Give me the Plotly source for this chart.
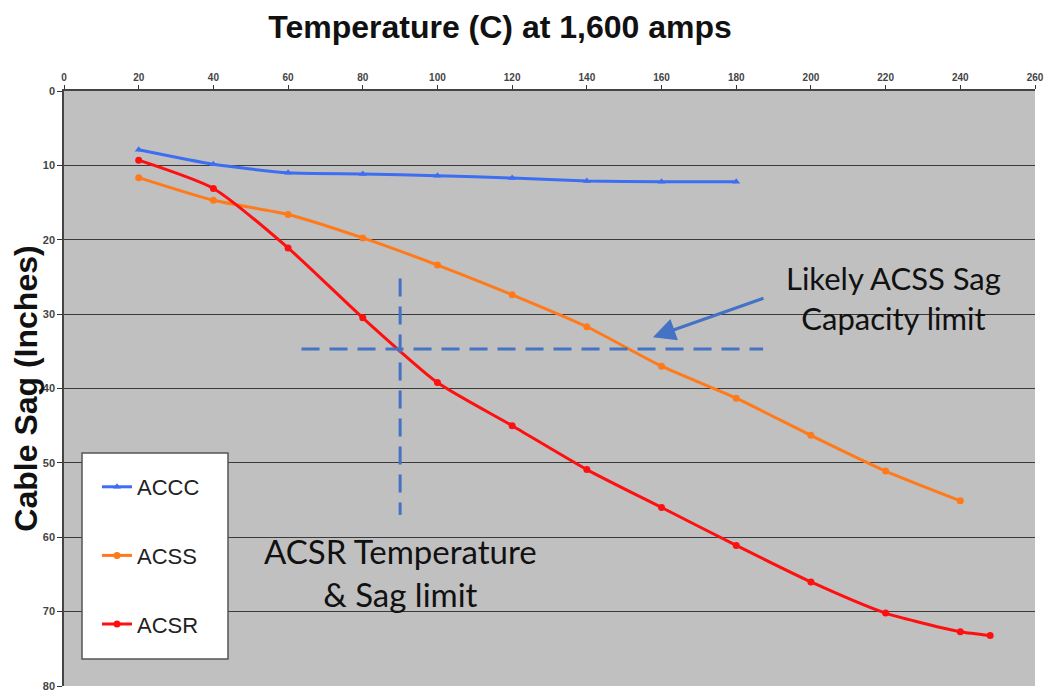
import plotly.graph_objects as go

# ---- data ----
temps_accc = [20, 40, 60, 80, 100, 120, 140, 160, 180]
sag_accc = [7.9, 9.85, 11.0, 11.15, 11.4, 11.7, 12.1, 12.2, 12.2]

temps_acss = [20, 40, 60, 80, 100, 120, 140, 160, 180, 200, 220, 240]
sag_acss = [11.65, 14.7, 16.6, 19.75, 23.4, 27.4, 31.7, 37.0, 41.3, 46.3, 51.1, 55.1]

temps_acsr = [20, 40, 60, 80, 100, 120, 140, 160, 180, 200, 220, 240, 248]
sag_acsr = [9.3, 13.1, 21.1, 30.5, 39.2, 45.0, 50.9, 56.0, 61.1, 66.0, 70.2, 72.7, 73.2]

x_ticks = list(range(0, 261, 20))
y_ticks = list(range(0, 81, 10))

# limit markers
acsr_temp_limit = 90
acss_sag_limit = 34.7

# plot area in screen pixels (page body adds an 8px offset)
PL, PR, PT, PB = 64, 1035, 91, 686
OFF = 8
PW, PH = PR - PL, PB - PT


def px(xp):
    return (xp - PL) / PW


def py(yp):
    return (PB - yp) / PH


fig = go.Figure()

series = [
    ("ACCC", temps_accc, sag_accc, "#3D6EF2", "triangle-up"),
    ("ACSS", temps_acss, sag_acss, "#FF7A1A", "circle"),
    ("ACSR", temps_acsr, sag_acsr, "#FF1010", "circle"),
]
for name, xs, ys, col, sym in series:
    fig.add_trace(go.Scatter(
        x=xs, y=ys, name=name, legendgroup=name,
        mode="lines+markers",
        line=dict(color=col, width=3, shape="spline", smoothing=0.6),
        marker=dict(color=col, size=7, symbol=sym),
    ))

# dashed limit lines
dash_style = dict(color="#4472C4", width=3, dash="18px,10px")
fig.add_trace(go.Scatter(
    x=[acsr_temp_limit, acsr_temp_limit], y=[25.2, 57],
    mode="lines", line=dash_style, showlegend=False, hoverinfo="skip",
))
fig.add_trace(go.Scatter(
    x=[63.6, 187.2], y=[acss_sag_limit, acss_sag_limit],
    mode="lines", line=dash_style, showlegend=False, hoverinfo="skip",
))

# arrow pointing at the ACSS limit
fig.add_annotation(
    x=157.7, y=33.1, ax=187.7, ay=27.8,
    xref="x", yref="y", axref="x", ayref="y",
    text="", showarrow=True, arrowhead=2, arrowsize=1.5,
    arrowwidth=3, arrowcolor="#4472C4",
)
fig.add_annotation(
    x=222, y=27.8, xref="x", yref="y",
    text="Likely ACSS Sag<br>Capacity limit", showarrow=False,
    font=dict(family="Lato", size=31, color="#111111"),
    align="center",
)
fig.add_annotation(
    x=90, y=64.8, xref="x", yref="y",
    text="ACSR Temperature<br>& Sag limit", showarrow=False,
    font=dict(family="Lato", size=33, color="#111111"),
    align="center",
)

# white legend box (the legend itself is drawn on top of it)
fig.add_shape(
    type="rect", xref="paper", yref="paper",
    x0=px(82), x1=px(228), y0=py(659), y1=py(453),
    fillcolor="white", line=dict(color="#555555", width=1.5), layer="above",
)

fig.update_layout(
    width=1063, height=699,
    margin=dict(l=PL - OFF, r=1063 - (PR - OFF), t=PT - OFF, b=699 - (PB - OFF),
                autoexpand=False),
    paper_bgcolor="white",
    plot_bgcolor="#C0C0C0",
    font=dict(family="Arial", color="#222222"),
    title=dict(text="<b>Temperature (C) at 1,600 amps</b>",
               x=(500 - OFF) / 1063, xanchor="center",
               y=1 - (27 - OFF) / 699, yanchor="middle",
               font=dict(family="Arial", size=32, color="#111111")),
    legend=dict(
        x=px(97), y=py(466), xanchor="left", yanchor="top",
        bgcolor="rgba(0,0,0,0)", borderwidth=0,
        font=dict(family="Arial", size=22, color="#222222"),
        tracegroupgap=37,
    ),
    showlegend=True,
)

fig.update_xaxes(
    range=[0, 260], side="top", tickvals=x_ticks, automargin=False,
    tickfont=dict(size=10, color="#444444", weight="bold"),
    ticks="outside", ticklen=4, tickcolor="#333333",
    showgrid=False, zeroline=False,
    showline=True, linecolor="#444444", linewidth=1.5,
)
fig.update_yaxes(
    range=[80, 0], tickvals=y_ticks, automargin=False,
    tickfont=dict(size=11, color="#444444", weight="bold"),
    ticks="outside", ticklen=5, tickcolor="#333333",
    showgrid=True, gridcolor="#3A3A3A", gridwidth=1.2,
    zeroline=False,
    showline=True, linecolor="#444444", linewidth=1.5,
    title=dict(text="<b>Cable Sag (Inches)</b>", standoff=1,
               font=dict(family="Arial", size=32, color="#111111")),
)

fig.write_html("out.html")
